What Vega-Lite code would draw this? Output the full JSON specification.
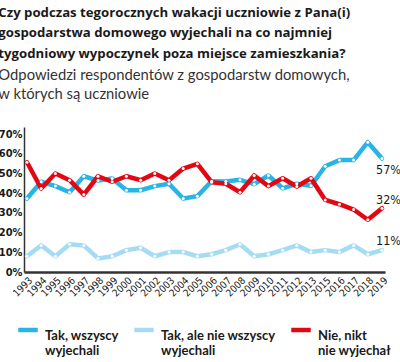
{
  "$schema": "https://vega.github.io/schema/vega-lite/v6.json",
  "autosize": {"type": "none"},
  "width": 361,
  "height": 145,
  "padding": {"left": 24, "top": 127, "right": 15, "bottom": 90},
  "background": "white",
  "config": {"view": {"stroke": null}},
  "title": {
    "text": ["Czy podczas tegorocznych wakacji uczniowie z Pana(i)", "gospodarstwa domowego wyjechali na co najmniej", "tygodniowy wypoczynek poza miejsce zamieszkania?"],
    "subtitle": ["Odpowiedzi respondentów z gospodarstw domowych,", "w których są uczniowie"],
    "anchor": "start",
    "frame": "bounds",
    "font": "Open Sans",
    "fontSize": 13.2,
    "fontWeight": "bold",
    "lineHeight": 20.5,
    "color": "#1a1a1a",
    "subtitleFont": "Lato",
    "subtitleFontSize": 14.8,
    "subtitleLineHeight": 19.5,
    "subtitleColor": "#333333",
    "subtitlePadding": 7,
    "offset": 24
  },
  "datasets": {
    "survey": [
      {"year": "1993", "series": "Tak, wszyscy wyjechali", "value": 37.3},
      {"year": "1994", "series": "Tak, wszyscy wyjechali", "value": 45.8},
      {"year": "1995", "series": "Tak, wszyscy wyjechali", "value": 43.6},
      {"year": "1996", "series": "Tak, wszyscy wyjechali", "value": 40.5},
      {"year": "1997", "series": "Tak, wszyscy wyjechali", "value": 48.6},
      {"year": "1998", "series": "Tak, wszyscy wyjechali", "value": 46.4},
      {"year": "1999", "series": "Tak, wszyscy wyjechali", "value": 47.5},
      {"year": "2000", "series": "Tak, wszyscy wyjechali", "value": 41.5},
      {"year": "2001", "series": "Tak, wszyscy wyjechali", "value": 41.5},
      {"year": "2002", "series": "Tak, wszyscy wyjechali", "value": 43.6},
      {"year": "2003", "series": "Tak, wszyscy wyjechali", "value": 44.8},
      {"year": "2004", "series": "Tak, wszyscy wyjechali", "value": 37.3},
      {"year": "2005", "series": "Tak, wszyscy wyjechali", "value": 38.5},
      {"year": "2006", "series": "Tak, wszyscy wyjechali", "value": 46.1},
      {"year": "2007", "series": "Tak, wszyscy wyjechali", "value": 45.9},
      {"year": "2008", "series": "Tak, wszyscy wyjechali", "value": 46.8},
      {"year": "2009", "series": "Tak, wszyscy wyjechali", "value": 44.6},
      {"year": "2010", "series": "Tak, wszyscy wyjechali", "value": 49.0},
      {"year": "2011", "series": "Tak, wszyscy wyjechali", "value": 42.5},
      {"year": "2012", "series": "Tak, wszyscy wyjechali", "value": 44.8},
      {"year": "2013", "series": "Tak, wszyscy wyjechali", "value": 43.8},
      {"year": "2015", "series": "Tak, wszyscy wyjechali", "value": 53.7},
      {"year": "2016", "series": "Tak, wszyscy wyjechali", "value": 56.8},
      {"year": "2017", "series": "Tak, wszyscy wyjechali", "value": 56.8},
      {"year": "2018", "series": "Tak, wszyscy wyjechali", "value": 65.9},
      {"year": "2019", "series": "Tak, wszyscy wyjechali", "value": 57.6, "label": "57%"},
      {"year": "1993", "series": "Tak, ale nie wszyscy wyjechali", "value": 8.0},
      {"year": "1994", "series": "Tak, ale nie wszyscy wyjechali", "value": 13.5},
      {"year": "1995", "series": "Tak, ale nie wszyscy wyjechali", "value": 8.0},
      {"year": "1996", "series": "Tak, ale nie wszyscy wyjechali", "value": 14.1},
      {"year": "1997", "series": "Tak, ale nie wszyscy wyjechali", "value": 13.5},
      {"year": "1998", "series": "Tak, ale nie wszyscy wyjechali", "value": 6.9},
      {"year": "1999", "series": "Tak, ale nie wszyscy wyjechali", "value": 8.0},
      {"year": "2000", "series": "Tak, ale nie wszyscy wyjechali", "value": 11.1},
      {"year": "2001", "series": "Tak, ale nie wszyscy wyjechali", "value": 12.3},
      {"year": "2002", "series": "Tak, ale nie wszyscy wyjechali", "value": 8.0},
      {"year": "2003", "series": "Tak, ale nie wszyscy wyjechali", "value": 10.1},
      {"year": "2004", "series": "Tak, ale nie wszyscy wyjechali", "value": 10.1},
      {"year": "2005", "series": "Tak, ale nie wszyscy wyjechali", "value": 8.0},
      {"year": "2006", "series": "Tak, ale nie wszyscy wyjechali", "value": 9.0},
      {"year": "2007", "series": "Tak, ale nie wszyscy wyjechali", "value": 11.1},
      {"year": "2008", "series": "Tak, ale nie wszyscy wyjechali", "value": 14.1},
      {"year": "2009", "series": "Tak, ale nie wszyscy wyjechali", "value": 8.0},
      {"year": "2010", "series": "Tak, ale nie wszyscy wyjechali", "value": 9.0},
      {"year": "2011", "series": "Tak, ale nie wszyscy wyjechali", "value": 11.1},
      {"year": "2012", "series": "Tak, ale nie wszyscy wyjechali", "value": 13.5},
      {"year": "2013", "series": "Tak, ale nie wszyscy wyjechali", "value": 10.1},
      {"year": "2015", "series": "Tak, ale nie wszyscy wyjechali", "value": 11.1},
      {"year": "2016", "series": "Tak, ale nie wszyscy wyjechali", "value": 10.1},
      {"year": "2017", "series": "Tak, ale nie wszyscy wyjechali", "value": 13.5},
      {"year": "2018", "series": "Tak, ale nie wszyscy wyjechali", "value": 9.0},
      {"year": "2019", "series": "Tak, ale nie wszyscy wyjechali", "value": 11.1, "label": "11%"},
      {"year": "1993", "series": "Nie, nikt nie wyjechał", "value": 55.7},
      {"year": "1994", "series": "Nie, nikt nie wyjechał", "value": 42.4},
      {"year": "1995", "series": "Nie, nikt nie wyjechał", "value": 50.0},
      {"year": "1996", "series": "Nie, nikt nie wyjechał", "value": 46.6},
      {"year": "1997", "series": "Nie, nikt nie wyjechał", "value": 39.3},
      {"year": "1998", "series": "Nie, nikt nie wyjechał", "value": 48.6},
      {"year": "1999", "series": "Nie, nikt nie wyjechał", "value": 45.8},
      {"year": "2000", "series": "Nie, nikt nie wyjechał", "value": 48.6},
      {"year": "2001", "series": "Nie, nikt nie wyjechał", "value": 46.6},
      {"year": "2002", "series": "Nie, nikt nie wyjechał", "value": 50.0},
      {"year": "2003", "series": "Nie, nikt nie wyjechał", "value": 46.6},
      {"year": "2004", "series": "Nie, nikt nie wyjechał", "value": 52.5},
      {"year": "2005", "series": "Nie, nikt nie wyjechał", "value": 54.9},
      {"year": "2006", "series": "Nie, nikt nie wyjechał", "value": 45.6},
      {"year": "2007", "series": "Nie, nikt nie wyjechał", "value": 44.8},
      {"year": "2008", "series": "Nie, nikt nie wyjechał", "value": 40.5},
      {"year": "2009", "series": "Nie, nikt nie wyjechał", "value": 49.0},
      {"year": "2010", "series": "Nie, nikt nie wyjechał", "value": 43.6},
      {"year": "2011", "series": "Nie, nikt nie wyjechał", "value": 47.6},
      {"year": "2012", "series": "Nie, nikt nie wyjechał", "value": 43.4},
      {"year": "2013", "series": "Nie, nikt nie wyjechał", "value": 47.6},
      {"year": "2015", "series": "Nie, nikt nie wyjechał", "value": 36.6},
      {"year": "2016", "series": "Nie, nikt nie wyjechał", "value": 34.4},
      {"year": "2017", "series": "Nie, nikt nie wyjechał", "value": 31.7},
      {"year": "2018", "series": "Nie, nikt nie wyjechał", "value": 26.5},
      {"year": "2019", "series": "Nie, nikt nie wyjechał", "value": 32.4, "label": "32%"}
    ]
  },
  "data": {"name": "survey"},
  "encoding": {
    "x": {
      "field": "year",
      "type": "ordinal",
      "scale": {"type": "point", "padding": 0.21},
      "axis": {
        "title": null,
        "labelAngle": -45,
        "labelFont": "DejaVu Sans Condensed, Liberation Sans, sans-serif",
        "labelFontSize": 10,
        "labelColor": "#1a1a1a",
        "labelPadding": 3,
        "ticks": false,
        "domainColor": "#333333",
        "domainWidth": 2.5,
        "grid": false
      }
    },
    "y": {
      "field": "value",
      "type": "quantitative",
      "scale": {"domain": [0, 73.6], "nice": false, "zero": true},
      "axis": {
        "title": null,
        "values": [0, 10, 20, 30, 40, 50, 60, 70],
        "labelExpr": "datum.value + '%'",
        "labelFont": "DejaVu Sans Condensed, Liberation Sans, sans-serif",
        "labelFontSize": 11,
        "labelFontWeight": "bold",
        "labelColor": "#1a1a1a",
        "labelPadding": 2,
        "ticks": false,
        "grid": false,
        "domainColor": "#333333",
        "domainWidth": 1.5
      }
    }
  },
  "layer": [
    {
      "mark": {"type": "line", "strokeWidth": 4.5, "strokeJoin": "round", "strokeCap": "round"},
      "encoding": {
        "color": {
          "field": "series",
          "type": "nominal",
          "scale": {
            "domain": ["Tak, wszyscy wyjechali", "Tak, ale nie wszyscy wyjechali", "Nie, nikt nie wyjechał"],
            "range": ["#29b4e6", "#a6dcf3", "#e30613"]
          },
          "legend": {
            "title": null,
            "orient": "none",
            "legendX": -8,
            "legendY": 191,
            "direction": "horizontal",
            "columns": 3,
            "columnPadding": 6,
            "gridAlign": "none",
            "symbolType": "stroke",
            "symbolSize": 380,
            "symbolStrokeWidth": 4.5,
            "labelFont": "Lato",
            "labelFontSize": 13,
            "labelFontWeight": "bold",
            "labelColor": "#1a1a1a",
            "labelLimit": 200,
            "labelOffset": 5,
            "labelBaseline": "top",
            "labelExpr": "datum.label == 'Tak, wszyscy wyjechali' ? ['Tak, wszyscy', 'wyjechali'] : datum.label == 'Tak, ale nie wszyscy wyjechali' ? ['Tak, ale nie wszyscy', 'wyjechali'] : ['Nie, nikt', 'nie wyjechał']"
          }
        },
        "order": {"field": "year"}
      }
    },
    {
      "mark": {"type": "point", "filled": true, "color": "white", "size": 9, "opacity": 1}
    },
    {
      "transform": [{"filter": "datum.label == '57%'"}],
      "mark": {"type": "text", "align": "left", "font": "DejaVu Sans Condensed, Liberation Sans, sans-serif", "fontSize": 12.5, "color": "#1a1a1a", "dx": -6, "dy": 11.5},
      "encoding": {"text": {"field": "label"}}
    },
    {
      "transform": [{"filter": "datum.label == '32%'"}],
      "mark": {"type": "text", "align": "left", "font": "DejaVu Sans Condensed, Liberation Sans, sans-serif", "fontSize": 12.5, "color": "#1a1a1a", "dx": -6, "dy": -8},
      "encoding": {"text": {"field": "label"}}
    },
    {
      "transform": [{"filter": "datum.label == '11%'"}],
      "mark": {"type": "text", "align": "left", "font": "DejaVu Sans Condensed, Liberation Sans, sans-serif", "fontSize": 12.5, "color": "#1a1a1a", "dx": -6, "dy": -9.5},
      "encoding": {"text": {"field": "label"}}
    }
  ]
}
